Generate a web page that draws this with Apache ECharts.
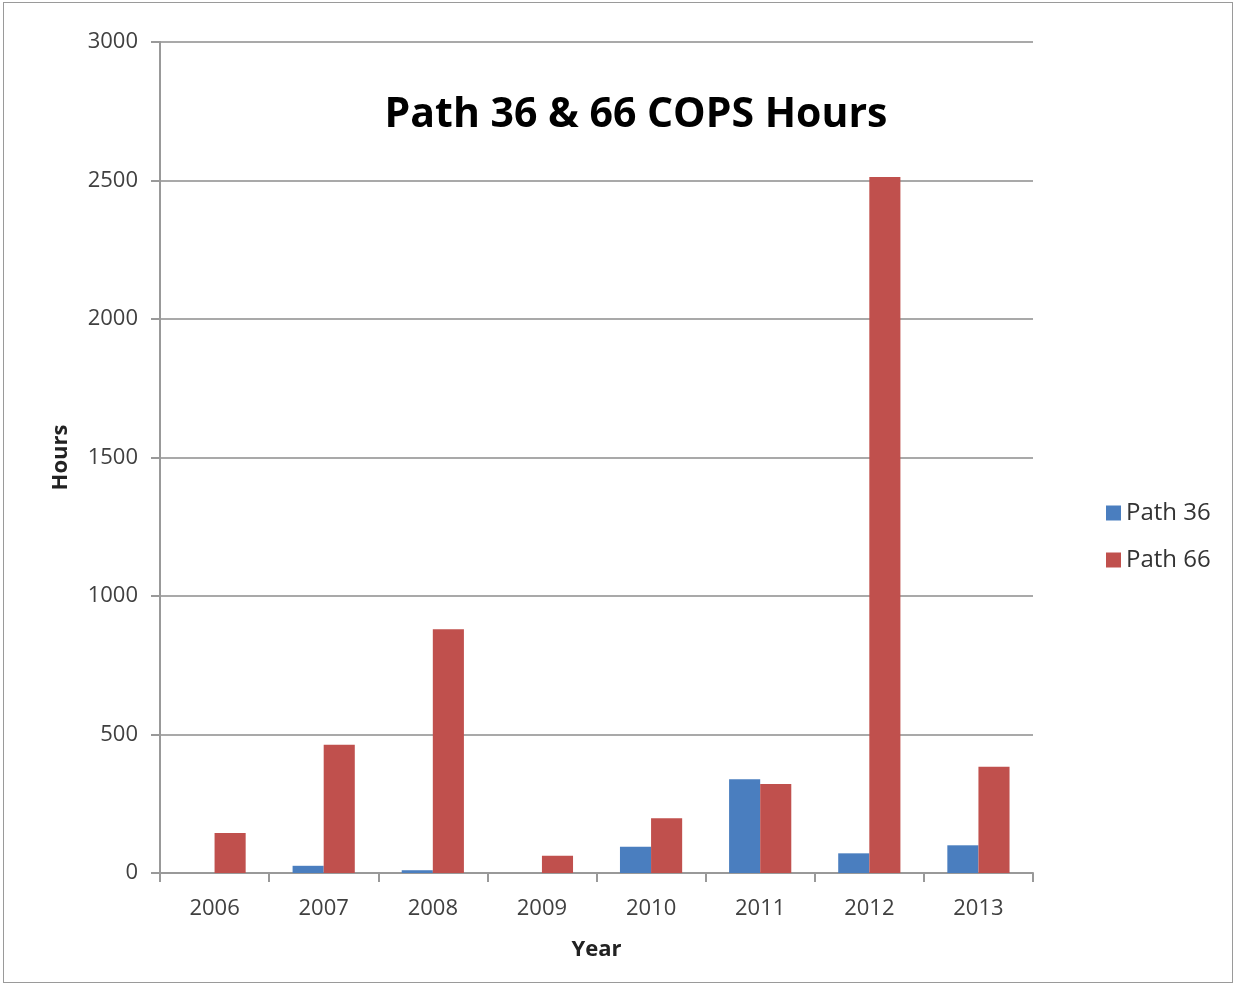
<!DOCTYPE html>
<html>
<head>
<meta charset="utf-8">
<script src="https://cdn.jsdelivr.net/npm/echarts@6/dist/echarts.min.js"></script>
<style>
html,body{margin:0;padding:0;background:#fff;}
#frame{position:absolute;left:3px;top:2px;width:1230px;height:981px;border:1px solid #9a9a9a;box-sizing:border-box;}
#chart{position:absolute;left:0;top:0;width:1237px;height:987px;}
</style>
</head>
<body>
<div id="frame"></div>
<div id="chart"></div>
<script>
const categories = ['2006','2007','2008','2009','2010','2011','2012','2013'];
const path36 = [0, 26, 10, 0, 95, 338, 71, 100];
const path66 = [144, 463, 880, 62, 198, 321, 2513, 384];
const seriesNames = ['Path 36', 'Path 66'];
const yTicks = [0, 500, 1000, 1500, 2000, 2500, 3000];

const font = '"Open Sans", "Noto Sans", sans-serif';
const chart = echarts.init(document.getElementById('chart'));
chart.setOption({
  animation: false,
  backgroundColor: 'transparent',
  title: {
    text: 'Path 36 & 66 COPS Hours',
    left: 631, top: 90, textAlign: 'center',
    textStyle: {fontFamily: font, fontWeight: 'bold', fontSize: 41, color: '#000'}
  },
  legend: {
    orient: 'vertical', left: 1101, top: 496,
    itemWidth: 15, itemHeight: 15, itemGap: 23,
    icon: 'rect',
    textStyle: {fontFamily: font, fontSize: 24, color: '#333', padding: [0,0,0,0]},
    data: seriesNames
  },
  grid: {left: 160, right: 204, top: 42, bottom: 114, containLabel: false},
  xAxis: {
    type: 'category', data: categories,
    name: 'Year', nameLocation: 'middle', nameGap: 66,
    nameTextStyle: {fontFamily: font, fontWeight: 'bold', fontSize: 22, color: '#222'},
    axisLine: {lineStyle: {color: '#999', width: 2}},
    axisTick: {show: true, length: 9, alignWithLabel: false, lineStyle: {color: '#999', width: 2}},
    axisLabel: {fontFamily: font, fontSize: 22, color: '#404040', margin: 25}
  },
  yAxis: {
    type: 'value', min: 0, max: 3000, interval: 500,
    name: 'Hours', nameLocation: 'middle', nameGap: 88,
    nameTextStyle: {fontFamily: font, fontWeight: 'bold', fontSize: 22, color: '#222'},
    axisLine: {show: true, lineStyle: {color: '#999', width: 2}},
    axisTick: {show: true, length: 9, lineStyle: {color: '#999', width: 2}},
    axisLabel: {fontFamily: font, fontSize: 22, color: '#404040', margin: 22,
      formatter: v => yTicks.includes(v) ? String(v) : ''},
    splitLine: {lineStyle: {color: '#8c8c8c', width: 1.5}}
  },
  series: [
    {name: seriesNames[0], type: 'bar', data: path36, barGap: '0%', barCategoryGap: '43%',
     itemStyle: {color: '#4a7ebf'}},
    {name: seriesNames[1], type: 'bar', data: path66, barGap: '0%', barCategoryGap: '43%',
     itemStyle: {color: '#c0504d'}}
  ]
});
</script>
</body>
</html>
